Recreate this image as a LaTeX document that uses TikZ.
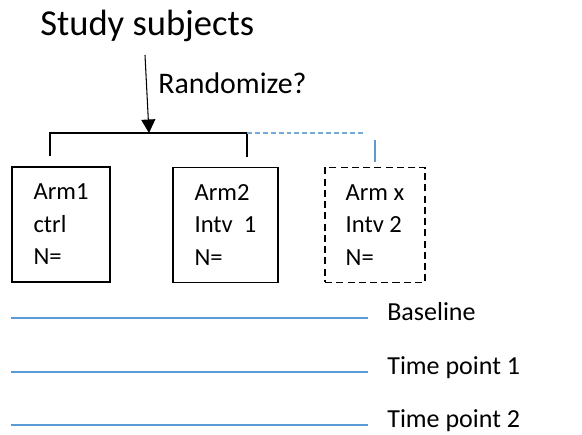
\documentclass[tikz,border=0pt]{standalone}
\usepackage{fontspec}
\setmainfont{Carlito}
\usepackage{xcolor}
\usetikzlibrary{positioning, arrows.meta}
\definecolor{armblue}{RGB}{91,155,213}
\tikzset{
  armbox/.style={draw, line width=1pt, align=left, inner sep=0pt, minimum height=2.3cm,
    font=\fontsize{14}{18.5}\selectfont},
  dashbox/.style={armbox, dash pattern=on 4pt off 2.4pt},
  splitline/.style={line width=0.8pt},
  timeline/.style={armblue, line width=0.8pt},
  tplabel/.style={anchor=base west, inner sep=0pt, font=\fontsize{14.8}{16}\selectfont}
}

\begin{document}
\begin{tikzpicture}[x=0.02cm, y=-0.02cm]
  \useasboundingbox (0,0) rectangle (582,435);
  \node[anchor=base west, inner sep=0pt, font=\fontsize{20.8}{24}\selectfont] (subj) at (40,36) {Study subjects};
  \node[anchor=base west, inner sep=0pt, font=\fontsize{17}{20}\selectfont] (rand) at (158,94) {Randomize?};
  % the three arms
  \node[armbox, minimum width=1.96cm] (arm1) at (61,224.5) {Arm1\\ctrl\\N=};
  \node[armbox, minimum width=2.1cm] (arm2) at (225.5,225) {Arm2\\Intv\ \ 1\\N=};
  \node[dashbox, minimum width=2cm] (armx) at (375,225) {Arm x\\Intv 2\\N=};
  % split over the arms
  \coordinate (src) at (145,55);
  \coordinate (split) at (149,133);
  \coordinate (s1) at (50,133);
  \coordinate (s2) at (247,133);
  \coordinate (s3) at (365,133);
  \draw[splitline] (s1 |- arm1.north) ++(0,-10) -- (s1) -- (s2) -- ++(0,24);
  \draw[armblue!85, line width=0.7pt, dash pattern=on 2.8pt off 1.7pt] (s2) -- (s3);
  \draw[armblue, line width=0.8pt] (armx.north) ++(0,-5) -- ++(0,-22);
  \draw[-{Triangle[length=0.27cm,width=0.28cm]}, line width=0.6pt] (src) -- (split);
  % time points
  \foreach \ty/\tlbl [count=\i] in {318/Baseline, 372/Time point 1, 425/Time point 2}{
    \coordinate (b\i) at (11,\ty);
    \coordinate (e\i) at (368,\ty);
    \node[tplabel] (tp\i) at (387,\ty+3) {\tlbl};
    \draw[timeline] (b\i) -- (e\i);
  }
\end{tikzpicture}
\end{document}
